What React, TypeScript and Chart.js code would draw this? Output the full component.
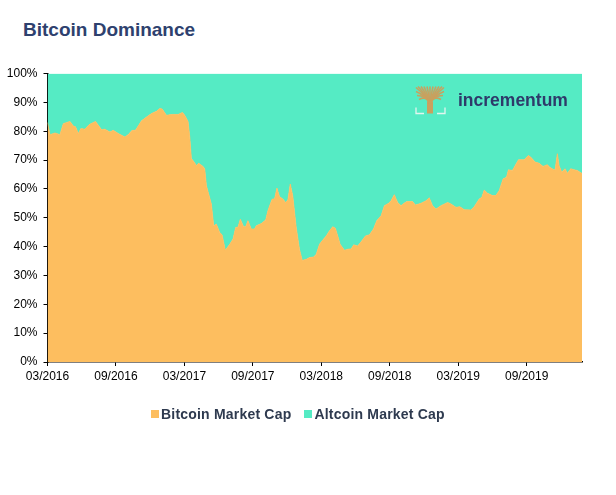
import { useEffect, useRef } from "react";
import { Chart, registerables } from "chart.js";

Chart.register(...registerables);

const TITLE = "Bitcoin Dominance";
const SERIES_NAMES = ["Bitcoin Market Cap", "Altcoin Market Cap"];
const COLORS = ["#FDBE5F", "#55EBC4"];
const LOGO_TEXT = "incrementum";
const START_YEAR = 2016;
const START_MONTH = 3; // March
const END_MONTH_INDEX = 46.85;

// months since 03/2016
const months = [
  0, 0.22, 0.66, 1.09, 1.38, 1.97, 2.26, 2.46, 2.7, 2.93, 3.28, 3.66, 4.21, 4.74, 5.03, 5.47, 5.76, 6.2,
  6.78, 7.07, 7.42, 7.71, 8.24, 8.68, 9.11, 9.55, 9.84, 10.05, 10.43, 10.87, 11.45, 11.83, 12.03, 12.32,
  12.47, 12.61, 12.85, 13.05, 13.25, 13.63, 13.78, 13.93, 14.36, 14.57, 14.8, 15.09, 15.3, 15.59, 15.97,
  16.26, 16.49, 16.7, 16.9, 17.19, 17.37, 17.57, 17.86, 18.15, 18.3, 18.74, 19.12, 19.32, 19.47, 19.7,
  19.9, 20.11, 20.34, 20.63, 20.87, 21.07, 21.28, 21.5, 21.8, 22.09, 22.33, 22.68, 22.97, 23.32, 23.55,
  23.84, 24.13, 24.43, 24.72, 25.0, 25.23, 25.44, 25.65, 26.03, 26.32, 26.61, 26.84, 27.19, 27.49, 27.87,
  28.22, 28.57, 28.86, 29.24, 29.53, 29.9, 30.11, 30.4, 30.69, 30.99, 31.28, 31.49, 32.0, 32.24, 32.74,
  33.18, 33.46, 33.75, 34.05, 34.49, 35.07, 35.36, 35.8, 36.15, 36.53, 37.11, 37.4, 37.84, 38.07, 38.28,
  38.57, 39.0, 39.3, 39.59, 39.94, 40.23, 40.4, 40.75, 41.28, 41.78, 42.15, 42.36, 42.74, 43.09, 43.44,
  43.81, 44.02, 44.4, 44.49, 44.69, 44.84, 45.07, 45.36, 45.57, 45.86, 46.15, 46.44, 46.74, 46.85,
];

// Bitcoin share of total crypto market cap, %
const btcShare = [
  83, 78.8, 79.4, 78.8, 82.6, 83.4, 81.8, 81.5, 79.2, 80.9, 80.7, 82.3, 83.4, 80.5, 80.7, 79.7, 80.3, 79.2,
  78, 78.8, 80.3, 80.3, 83.6, 84.9, 86.1, 86.9, 87.9, 87.7, 85.5, 85.8, 85.8, 86.5, 85.5, 83.4,
  78, 70.5, 69.3, 68.1, 68.9, 67.8, 67, 61.1, 54.8, 47.2, 47.8, 44.9, 44.1, 38.7, 40.8,
  42.6, 46.6, 46.8, 49.5, 46.9, 46.9, 49, 46.1, 46.1, 47.2, 48, 49.2, 52.4, 54.2, 56.5,
  56.5, 60.3, 57.3, 56.5, 55.3, 56.2, 61.7, 57.5, 46.6, 39, 35.2, 35.6, 36.2, 36.4, 37.3,
  40.8, 42.3, 43.7, 45.5, 46.9, 46.4, 43.7, 40.8, 38.7, 39.1, 39.2, 40.6, 40.2, 41.7, 43.7,
  44.1, 46.1, 49, 50.7, 54.2, 55, 55.9, 58, 55.3, 54.2, 55.1, 55.6, 55.6, 54.4, 55,
  55.9, 56.9, 54.2, 53, 54.2, 55.3, 54.8, 53.6, 53.8, 52.8, 52.7, 53.8, 56.5, 57.1, 59.6,
  58.5, 57.7, 57.7, 59.4, 63.5, 64, 66.6, 66.4, 70.1, 70.1, 71.6, 71, 69.3, 68.9, 67.8,
  68.4, 67.5, 66.6, 66.6, 72.2, 68.1, 65.8, 67, 65.4, 67, 66.6, 66.4, 65.6, 65.4,
];

const altShare = btcShare.map((v) => 100 - v);

const monthLabel = (m: number) => {
  const total = START_MONTH - 1 + Math.round(m);
  const mm = (total % 12) + 1;
  const yy = START_YEAR + Math.floor(total / 12);
  return `${mm < 10 ? "0" : ""}${mm}/${yy}`;
};

const logoPlugin = {
  id: "logo",
  afterDatasetsDraw(chart: any) {
    const { ctx, chartArea } = chart;
    const bx = chartArea.right - 166;
    const by = chartArea.top + 13;
    ctx.save();
    const gold = "#C9A15F";
    ctx.strokeStyle = gold;
    ctx.fillStyle = gold;
    ctx.fillRect(bx + 11, by + 15, 6, 12);
    ctx.lineWidth = 1.6;
    const cx = bx + 14;
    const cy = by + 17;
    const tips = [
      [0, 1], [2, 0], [5, 0], [8, 0], [11, 0], [14, 0], [17, 0], [20, 0], [23, 0], [26, 0], [28, 1],
      [0, 5], [28, 5], [1, 9], [27, 9], [3, 13], [25, 13],
    ];
    tips.forEach(([tx, ty]) => {
      ctx.beginPath();
      ctx.moveTo(cx, cy);
      ctx.quadraticCurveTo(cx + (bx + tx - cx) * 0.3, cy - 8, bx + tx, by + ty);
      ctx.stroke();
    });
    ctx.strokeStyle = "#E3F5EE";
    ctx.lineWidth = 1.3;
    ctx.beginPath();
    ctx.moveTo(bx, by + 21);
    ctx.lineTo(bx, by + 27);
    ctx.lineTo(bx + 8, by + 27);
    ctx.moveTo(bx + 29, by + 21);
    ctx.lineTo(bx + 29, by + 27);
    ctx.lineTo(bx + 21, by + 27);
    ctx.stroke();
    ctx.fillStyle = "#2E3A6A";
    ctx.font = "bold 17.5px 'Liberation Sans', Arial, sans-serif";
    ctx.textBaseline = "middle";
    ctx.textAlign = "left";
    ctx.fillText(LOGO_TEXT, bx + 42, by + 15);
    ctx.restore();
  },
};

export default function App() {
  const canvasRef = useRef<HTMLCanvasElement | null>(null);

  useEffect(() => {
    if (!canvasRef.current) return;
    const chart = new Chart(canvasRef.current, {
      type: "line",
      data: {
        datasets: [
          {
            label: SERIES_NAMES[0],
            data: months.map((m, i) => ({ x: m, y: btcShare[i] })),
            backgroundColor: COLORS[0],
            borderColor: COLORS[0],
            borderWidth: 0.8,
            fill: "origin",
            pointRadius: 0,
            tension: 0,
          },
          {
            label: SERIES_NAMES[1],
            data: months.map((m, i) => ({ x: m, y: altShare[i] })),
            backgroundColor: COLORS[1],
            borderColor: COLORS[1],
            borderWidth: 0,
            fill: "-1",
            pointRadius: 0,
            tension: 0,
          },
        ],
      },
      options: {
        responsive: false,
        animation: false,
        devicePixelRatio: 1,
        layout: { padding: { left: 0, right: 34, top: 73.5, bottom: 111 } },
        plugins: {
          legend: { display: false },
          tooltip: { enabled: false },
          title: { display: false },
        },
        scales: {
          x: {
            type: "linear",
            min: 0,
            max: END_MONTH_INDEX,
            border: { color: "#000", width: 1.5 },
            grid: { display: true, drawOnChartArea: false, drawTicks: true, tickLength: 4, color: "#000" },
            ticks: {
              stepSize: 6,
              includeBounds: false,
              autoSkip: false,
              maxRotation: 0,
              padding: 3,
              color: "#000",
              font: { family: "'Liberation Sans', Arial, sans-serif", size: 12 },
              callback: (v: any) => monthLabel(Number(v)),
            },
            afterFit: (s: any) => {
              s.height = 22;
            },
          },
          y: {
            stacked: true,
            min: 0,
            max: 100,
            border: { color: "#000", width: 1.5 },
            grid: { display: true, drawOnChartArea: false, drawTicks: true, tickLength: 4, color: "#000" },
            ticks: {
              stepSize: 10,
              padding: 6,
              color: "#000",
              font: { family: "'Liberation Sans', Arial, sans-serif", size: 12 },
              callback: (v: any) => `${v}%`,
            },
            afterFit: (s: any) => {
              s.width = 47.5;
            },
          },
        },
      },
      plugins: [logoPlugin],
    } as any);
    return () => chart.destroy();
  }, []);

  const legendItem = (i: number) => (
    <div style={{ display: "flex", alignItems: "center" }}>
      <span style={{ width: 8, height: 8, background: COLORS[i], display: "inline-block", marginRight: 2 }} />
      <span>{SERIES_NAMES[i]}</span>
    </div>
  );

  return (
    <div
      style={{
        position: "absolute",
        left: 0,
        top: 0,
        width: 616,
        height: 495,
        background: "#fff",
        fontFamily: "'Liberation Sans', Arial, sans-serif",
      }}
    >
      <div
        style={{
          position: "absolute",
          left: 23,
          top: 19,
          fontSize: 19,
          fontWeight: "bold",
          color: "#2E416E",
          whiteSpace: "nowrap",
        }}
      >
        {TITLE}
      </div>
      <canvas ref={canvasRef} width={616} height={495} style={{ position: "absolute", left: 0, top: 0 }} />
      <div
        style={{
          position: "absolute",
          left: 151,
          top: 406,
          display: "flex",
          gap: 13,
          fontSize: 14,
          fontWeight: "bold",
          color: "#2E3A4F",
          letterSpacing: 0.2,
          whiteSpace: "nowrap",
        }}
      >
        {legendItem(0)}
        {legendItem(1)}
      </div>
    </div>
  );
}
